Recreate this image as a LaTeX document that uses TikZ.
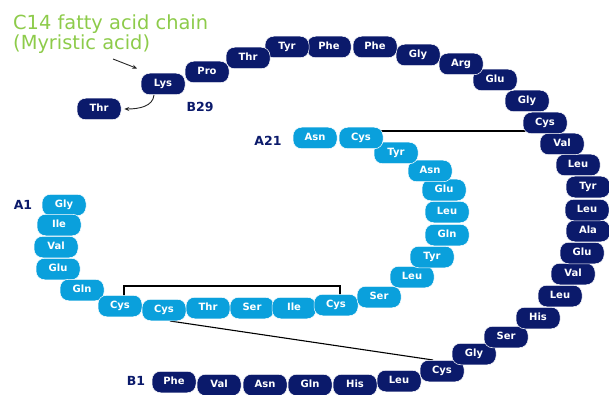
\documentclass[tikz,border=0pt]{standalone}
\usepackage{fontspec}
\setmainfont{DejaVu Sans}
\usetikzlibrary{arrows.meta,backgrounds}
\definecolor{navy}{HTML}{0B1A6B}
\definecolor{sky}{HTML}{0AA0DC}
\definecolor{lime}{HTML}{8DCB4A}

\begin{document}
\begin{tikzpicture}[x=1pt,y=-1pt,
  bead/.style={rounded corners=8.5pt, minimum width=44pt, minimum height=21.5pt,
    inner sep=0pt, text height=7.5pt, text depth=2pt, text=white,
    font=\fontsize{10}{12}\selectfont\bfseries, draw=white, line width=0.5pt},
  bchain/.style={bead, fill=navy},
  achain/.style={bead, fill=sky},
  tag/.style={text=navy, font=\fontsize{12.5}{15}\selectfont\bfseries, inner sep=0pt},
  bond/.style={draw=black, line width=1.1pt},
  pointer/.style={draw=black!85, line width=0.9pt, -{Stealth[length=5pt,width=4pt]}},
  note/.style={text=lime, font=\fontsize{19.4}{23}\selectfont, anchor=base west, inner sep=0pt}]
\useasboundingbox (0,0) rectangle (609,395);

% B chain (dark)
\foreach \n/\x/\y/\t in {
  B1/174/382/Phe, B2/219/385/Val, B3/265/385/Asn, B4/310/385/Gln,
  B5/355/385/His, B6/399/381/Leu, B7/442/371/Cys, B8/474/354/Gly,
  B9/506/337/Ser, B10/538/318/His, B11/560/296/Leu, B12/573/274/Val,
  B13/582/253/Glu, B14/588/231/Ala, B15/587/210/Leu, B16/588/187/Tyr,
  B17/578/165/Leu, B18/562/144/Val, B19/545/123/Cys, B20/527/101/Gly,
  B21/495/80/Glu, B22/461/64/Arg, B23/418/55/Gly, B24/375/47/Phe,
  B25/329/47/Phe, B26/287/47/Tyr, B27/248/58/Thr, B28/207/72/Pro,
  B29/163/84/Lys, B30/99/109/Thr}
  \node[bchain] (\n) at (\x,\y) {\t};

% A chain (light)
\foreach \n/\x/\y/\t in {
  A1/64/205/Gly, A2/59/225/Ile, A3/56/247/Val, A4/58/269/Glu,
  A5/82/290/Gln, A6/120/306/Cys, A7/164/310/Cys, A8/208/308/Thr,
  A9/252/308/Ser, A10/294/308/Ile, A11/336/305/Cys, A12/379/297/Ser,
  A13/412/277/Leu, A14/432/257/Tyr, A15/447/235/Gln, A16/447/212/Leu,
  A17/444/190/Glu, A18/430/171/Asn, A19/396/153/Tyr, A20/361/138/Cys,
  A21/315/138/Asn}
  \node[achain] (\n) at (\x,\y) {\t};

% chain end labels
\node[tag] (lA1) at (23,205) {A1};
\node[tag] (lA21) at (268,141) {A21};
\node[tag] (lB1) at (136,381) {B1};
\node[tag] (lB29) at (200,107) {B29};

% fatty acid note
\node[note] (n1) at (13,30) {C14 fatty acid chain};
\node[note] (n2) at (13,50) {(Myristic acid)};

% arrows at B29
\coordinate (fa) at (113,59);
\draw[pointer] (fa) -- ([xshift=-3.5pt,yshift=4.5pt]B29.north west);
\draw[pointer] ([xshift=-9pt]B29.south) .. controls (153,106) and (140,109) .. ([xshift=3pt]B30.east);

% disulfide bridges, behind the residues
\begin{scope}[on background layer]
  \coordinate (s1) at (124,286);
  \draw[bond] ([xshift=4pt]A6.center) -- (s1) -| ([xshift=4pt]A11.center);
  \draw[bond] ([xshift=6pt]A7.south) -- ([xshift=-9pt]B7.north);
  \coordinate (s3) at ([yshift=7pt]A20.center);
  \draw[bond] (s3) -- (s3 -| B19.center);
\end{scope}
\end{tikzpicture}
\end{document}
